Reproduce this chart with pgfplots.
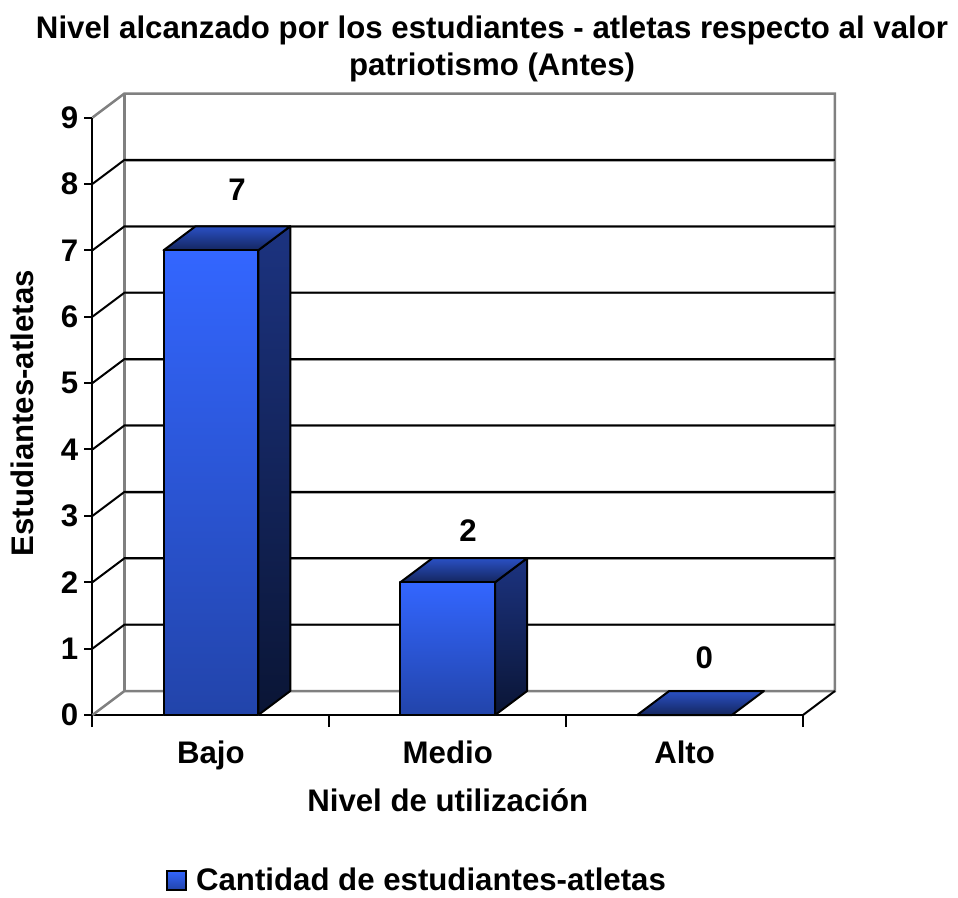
\documentclass[border=0pt]{standalone}
\usepackage{pgfplots}
\pgfplotsset{compat=1.18}
\usepackage{fontspec}
\setmainfont{Liberation Sans}
\definecolor{frontT}{HTML}{3366FF}
\definecolor{frontB}{HTML}{2244AA}
\definecolor{sideT}{HTML}{1C3380}
\definecolor{sideB}{HTML}{0A1535}
\definecolor{topB}{HTML}{2A50C4}
\definecolor{topF}{HTML}{14265F}
\definecolor{wall}{HTML}{808080}
\pgfplotsset{
  grayfringe/.style={forget plot, draw=wall!70, line width=1.6pt},
  gridblack/.style={forget plot, draw=black, line width=2pt},
  wallline/.style={forget plot, draw=wall, line width=2.5pt},
  front/.style={forget plot, draw=black, line width=2pt, line join=round, top color=frontT, bottom color=frontB},
  side/.style={forget plot, draw=black, line width=2pt, line join=round, top color=sideT, bottom color=sideB},
  topf/.style={forget plot, draw=black, line width=2pt, line join=round, top color=topB, bottom color=topF},
}
\newcommand{\lab}{\fontsize{31.2}{36}\selectfont\bfseries}
\begin{document}
\begin{tikzpicture}
\path[use as bounding box] (0,0) rectangle (958pt,897pt);
\begin{axis}[
  at={(92.5pt,182pt)}, anchor=south west,
  scale only axis, width=710.5pt, height=597.5pt,
  xmin=0, xmax=3, ymin=0, ymax=9,
  clip=false,
  axis x line=bottom, axis y line=left,
  axis line style={-, line width=2pt, black},
  ytick={0,1,2,3,4,5,6,7,8,9},
  xtick={0.5,1.5,2.5},
  xticklabels={Bajo,Medio,Alto},
  extra x ticks={0,1,2,3},
  extra x tick labels={},
  tick style={line width=2pt, black},
  extra x tick style={major tick length=12pt, xtick style={draw=black, line width=2pt}},
  xtick style={draw=none},
  ytick style={draw=black, line width=2pt},
  major tick length=8pt,
  tick align=outside,
  /pgf/number format/assume math mode=true,
  yticklabel style={font=\lab, anchor=center, xshift=-15pt},
  xticklabel style={font=\lab, anchor=center, text height=23pt, text depth=6.5pt, yshift=-31.75pt},
  xlabel={Nivel de utilización},
  xlabel style={font=\lab, at={(axis description cs:0.5,-0.1423)}, anchor=center},
  ylabel={Estudiantes-atletas},
  ylabel style={font=\lab, at={(axis description cs:-0.0992,0.505)}, anchor=center},
  title={Nivel alcanzado por los estudiantes - atletas respecto al valor\\patriotismo (Antes)},
  title style={font=\fontsize{31.2}{37}\selectfont\bfseries, align=center, at={(axis description cs:0.5623,1.104)}, anchor=center},
  legend style={draw=none, fill=none, at={(axis cs:0.31,-2.49)}, anchor=west, font=\lab, inner sep=0pt},
  legend cell align=left,
  legend image code/.code={
    \path[draw=none] (0pt,0pt) -- (27pt,0pt);
    \path[draw=black, line width=2pt, top color=frontT, bottom color=frontB] (0pt,-9.5pt) rectangle (19pt,9.5pt);
  },
]
% back wall: gridlines fringe
\addplot[grayfringe] coordinates {(0.135,1.3465)(3.135,1.3465)};
\addplot[grayfringe] coordinates {(0.135,2.3465)(3.135,2.3465)};
\addplot[grayfringe] coordinates {(0.135,3.3465)(3.135,3.3465)};
\addplot[grayfringe] coordinates {(0.135,4.3465)(3.135,4.3465)};
\addplot[grayfringe] coordinates {(0.135,5.3465)(3.135,5.3465)};
\addplot[grayfringe] coordinates {(0.135,6.3465)(3.135,6.3465)};
\addplot[grayfringe] coordinates {(0.135,7.3465)(3.135,7.3465)};
\addplot[grayfringe] coordinates {(0.135,8.3465)(3.135,8.3465)};
% walls
\addplot[wallline] coordinates {(0,0)(0.135,0.3615)(3.135,0.3615)(3.135,9.3615)(0.135,9.3615)(0,9)};
\addplot[wallline] coordinates {(0.135,0.3615)(0.135,9.3615)};
% gridlines black
\addplot[gridblack] coordinates {(0,1)(0.135,1.3615)(3.135,1.3615)};
\addplot[gridblack] coordinates {(0,2)(0.135,2.3615)(3.135,2.3615)};
\addplot[gridblack] coordinates {(0,3)(0.135,3.3615)(3.135,3.3615)};
\addplot[gridblack] coordinates {(0,4)(0.135,4.3615)(3.135,4.3615)};
\addplot[gridblack] coordinates {(0,5)(0.135,5.3615)(3.135,5.3615)};
\addplot[gridblack] coordinates {(0,6)(0.135,6.3615)(3.135,6.3615)};
\addplot[gridblack] coordinates {(0,7)(0.135,7.3615)(3.135,7.3615)};
\addplot[gridblack] coordinates {(0,8)(0.135,8.3615)(3.135,8.3615)};
\addplot[gridblack] coordinates {(3,0)(3.135,0.3615)};
% Bajo = 7
\addplot[side] coordinates {(0.7,0)(0.835,0.3615)(0.835,7.3615)(0.7,7)} --cycle;
\addplot[topf] coordinates {(0.3,7)(0.7,7)(0.835,7.3615)(0.435,7.3615)} --cycle;
\addplot[front] coordinates {(0.3,0)(0.7,0)(0.7,7)(0.3,7)} --cycle;
% Medio = 2
\addplot[side] coordinates {(1.7,0)(1.835,0.3615)(1.835,2.3615)(1.7,2)} --cycle;
\addplot[topf] coordinates {(1.3,2)(1.7,2)(1.835,2.3615)(1.435,2.3615)} --cycle;
\addplot[front] coordinates {(1.3,0)(1.7,0)(1.7,2)(1.3,2)} --cycle;
% Alto = 0
\addplot[topf] coordinates {(2.3,0)(2.7,0)(2.835,0.3615)(2.435,0.3615)} --cycle;
% value labels
\addplot[forget plot, draw=none, mark=none, point meta=explicit symbolic,
  nodes near coords, nodes near coords align={anchor=center},
  every node near coord/.append style={font=\lab, anchor=center}]
  coordinates {(0.61,7.91)[7] (1.586,2.78)[2] (2.583,0.857)[0]};
\addlegendimage{black}
\addlegendentry{Cantidad de estudiantes-atletas}
\end{axis}
\end{tikzpicture}
\end{document}
